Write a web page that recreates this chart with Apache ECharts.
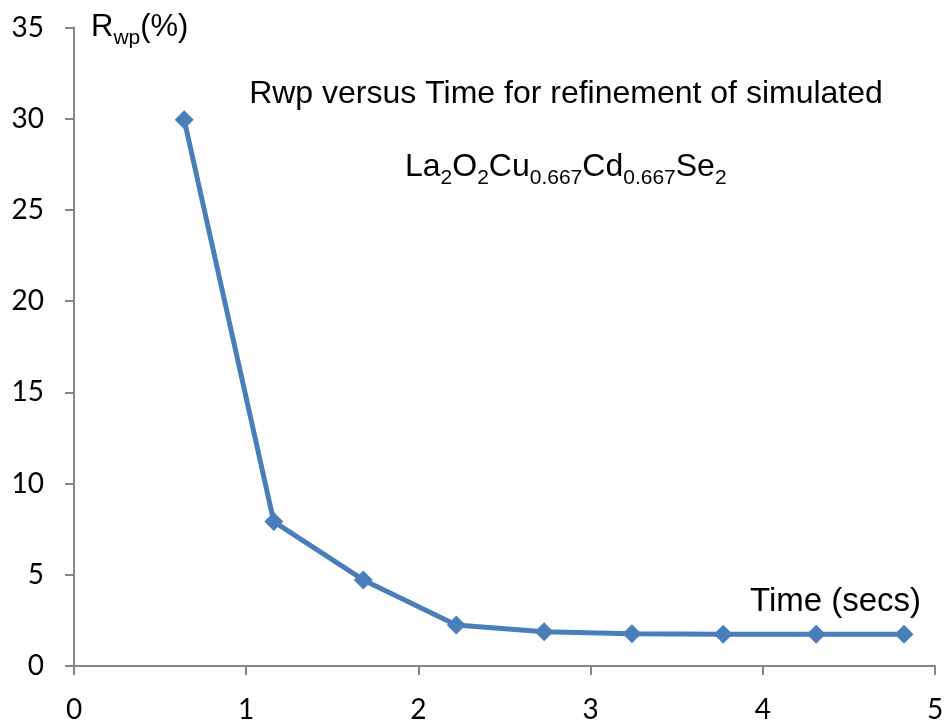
<!DOCTYPE html>
<html><head><meta charset="utf-8">
<script src="https://cdn.jsdelivr.net/npm/echarts@6/dist/echarts.min.js"></script>
<style>html,body{margin:0;padding:0;background:#fff}#c{width:947px;height:724px}</style>
</head><body><div id="c"></div>
<script>
const timeSecs = [0.64, 1.16, 1.68, 2.22, 2.73, 3.24, 3.77, 4.31, 4.82];
const rwp = [29.95, 7.92, 4.72, 2.25, 1.88, 1.77, 1.74, 1.74, 1.74];
const xTicks = [0, 1, 2, 3, 4, 5];
const yTicks = [0, 5, 10, 15, 20, 25, 30, 35];

const chart = echarts.init(document.getElementById('c'));
const tickFont = 'Lato, "Open Sans", sans-serif';
const arial = '"Liberation Sans", Arial, sans-serif';
const axisGrey = '#868686';
const subRich = (fs, sfs, lh) => ({
  n: { fontFamily: arial, fontSize: fs, fontWeight: 'normal', color: '#000', lineHeight: lh, verticalAlign: 'middle' },
  s: { fontFamily: arial, fontSize: sfs, fontWeight: 'normal', color: '#000', lineHeight: Math.round(lh / 2), verticalAlign: 'bottom' }
});
chart.setOption({
  animation: false,
  backgroundColor: '#fff',
  grid: { left: 74, right: 12, top: 27.6, bottom: 58 },
  title: [
    { text: 'Rwp versus Time for refinement of simulated', left: 566, top: 78, textAlign: 'center', padding: 0,
      textStyle: { fontFamily: arial, fontSize: 32, fontWeight: 'normal', color: '#000' } },
    { text: '{n|La}{s|2}{n|O}{s|2}{n|Cu}{s|0.667}{n|Cd}{s|0.667}{n|Se}{s|2}', left: 405, top: 145, padding: 0,
      textStyle: { fontWeight: 'normal', rich: subRich(32, 21, 44) } },
    { text: '{n|R}{s|wp}{n|(%)}', left: 91, top: 5, padding: 0,
      textStyle: { fontWeight: 'normal', rich: subRich(31, 21, 44) } },
    { text: 'Time (secs)', left: 750, top: 585, padding: 0,
      textStyle: { fontFamily: arial, fontSize: 33, fontWeight: 'normal', color: '#000' } }
  ],
  xAxis: {
    type: 'value', min: xTicks[0], max: xTicks[xTicks.length - 1], interval: 1,
    axisLine: { onZero: false, lineStyle: { color: axisGrey, width: 2 } },
    axisTick: { show: true, inside: false, length: 9, lineStyle: { color: axisGrey, width: 2 } },
    axisLabel: { margin: 30, color: '#000', fontSize: 28, fontFamily: tickFont },
    splitLine: { show: false }
  },
  yAxis: {
    type: 'value', min: yTicks[0], max: yTicks[yTicks.length - 1], interval: 5,
    axisLine: { show: true, lineStyle: { color: axisGrey, width: 2 } },
    axisTick: { show: true, inside: false, length: 9, lineStyle: { color: axisGrey, width: 2 } },
    axisLabel: { margin: 30, color: '#000', fontSize: 28, fontFamily: tickFont },
    splitLine: { show: false }
  },
  series: [{
    type: 'line',
    data: timeSecs.map((t, i) => [t, rwp[i]]),
    symbol: 'diamond', symbolSize: 19,
    lineStyle: { color: '#4a7ebb', width: 5 },
    itemStyle: { color: '#4a7ebb' }
  }]
});
</script></body></html>
